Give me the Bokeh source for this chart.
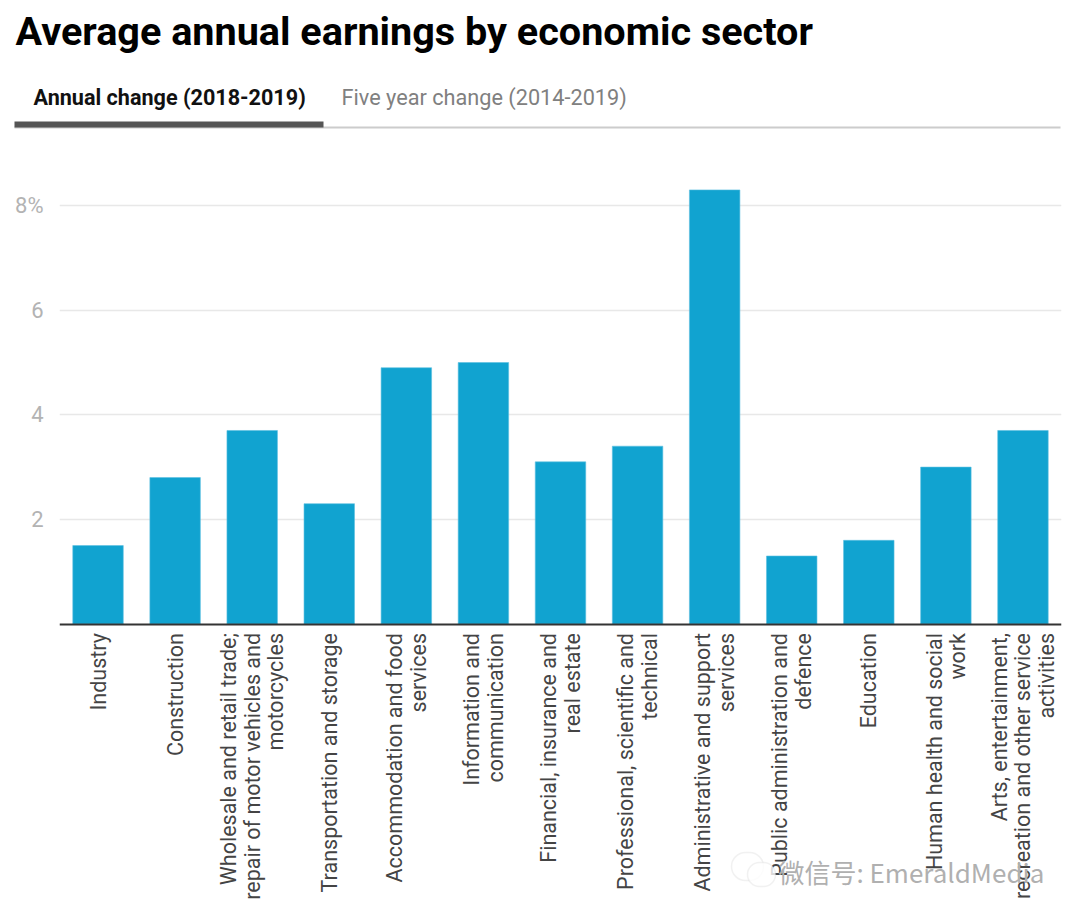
from math import pi
from bokeh.plotting import figure
from bokeh.layouts import column
from bokeh.models import FactorRange, Range1d, FixedTicker, Label, BoxAnnotation
from bokeh.embed import file_html
from bokeh.resources import INLINE

TITLE = "Average annual earnings by economic sector"
TAB_ACTIVE = "Annual change (2018-2019)"
TAB_OTHER = "Five year change (2014-2019)"
WATERMARK = "微信号: EmeraldMedia"

sectors = [
    "Industry",
    "Construction",
    "Wholesale and retail trade;\nrepair of motor vehicles and\nmotorcycles",
    "Transportation and storage",
    "Accommodation and food\nservices",
    "Information and\ncommunication",
    "Financial, insurance and\nreal estate",
    "Professional, scientific and\ntechnical",
    "Administrative and support\nservices",
    "Public administration and\ndefence",
    "Education",
    "Human health and social\nwork",
    "Arts, entertainment,\nrecreation and other service\nactivities",
]
change = [1.5, 2.8, 3.7, 2.3, 4.9, 5.0, 3.1, 3.4, 8.3, 1.3, 1.6, 3.0, 3.7]
y_ticks = [2, 4, 6, 8]
y_labels = {2: "2", 4: "4", 6: "6", 8: "8%"}

W = 1064
HEADER_H = 140
BOTTOM = 912
FRAME_L, FRAME_R, BASE_Y = 59, 1061, 623.5
PX_PER_UNIT = 52.3
MAIN_H = BOTTOM - HEADER_H

# ---- header: its frame is the whole canvas
head = figure(
    width=W, height=HEADER_H, output_backend="svg", toolbar_location=None,
    x_range=Range1d(0, W), y_range=Range1d(0, HEADER_H),
    min_border=0, min_border_left=0, min_border_right=0, min_border_top=0, min_border_bottom=0,
    outline_line_color=None, background_fill_color="white", border_fill_color="white",
    frame_align=False,
)
head.axis.visible = False
head.grid.visible = False


def head_label(text, x, y, size, color, style="normal"):
    head.add_layout(Label(
        x=x, y=HEADER_H - y, x_units="screen", y_units="screen", text=text,
        text_font="Roboto", text_font_size=size, text_color=color, text_font_style=style,
        text_align="left", text_baseline="middle",
    ))


def head_box(l, r, t, b, color):
    head.add_layout(BoxAnnotation(
        left=l, right=r, top=HEADER_H - t, bottom=HEADER_H - b,
        left_units="screen", right_units="screen", top_units="screen", bottom_units="screen",
        fill_color=color, fill_alpha=1, line_color=None,
    ))


head_label(TITLE, 15, 31, "39.6px", "#000000", "bold")
head_label(TAB_ACTIVE, 33, 96.5, "21.6px", "#111111", "bold")
head_label(TAB_OTHER, 341, 96.5, "21.7px", "#808080")
head_box(14, 1060, 126, 128, "#cccccc")
head_box(14, 323, 121, 127, "#555555")

# ---- chart: frame runs to the canvas bottom so the watermark can lie over the labels
p = figure(
    width=W, height=MAIN_H, output_backend="svg", toolbar_location=None,
    x_range=FactorRange(factors=sectors, range_padding=0, factor_padding=0),
    y_range=Range1d(-(BOTTOM - BASE_Y) / PX_PER_UNIT, (BASE_Y - HEADER_H) / PX_PER_UNIT),
    min_border_left=FRAME_L, min_border_right=W - FRAME_R, min_border_top=0, min_border_bottom=0,
    background_fill_color="white", border_fill_color="white", outline_line_color=None,
    frame_align=False,
)
p.vbar(x=sectors, top=change, width=0.655, fill_color="#11a3d0", line_color="#5cc0e0", line_width=0.6)

p.xgrid.visible = False
p.ygrid.grid_line_color = "#e8e8e8"
p.ygrid.grid_line_width = 1.5

p.yaxis.ticker = FixedTicker(ticks=y_ticks)
p.yaxis.major_label_overrides = y_labels
p.yaxis.axis_line_color = None
p.yaxis.major_tick_line_color = None
p.yaxis.minor_tick_line_color = None
p.yaxis.major_label_text_font = "Roboto"
p.yaxis.major_label_text_font_size = "22px"
p.yaxis.major_label_text_color = "#b3b3b3"
p.yaxis.major_label_standoff = 10

p.xaxis.fixed_location = 0
p.xaxis.axis_line_color = "#333333"
p.xaxis.axis_line_width = 2
p.xaxis.major_tick_line_color = None
p.xaxis.minor_tick_line_color = None
p.xaxis.major_label_orientation = pi / 2
p.xaxis.major_label_text_font = "Roboto"
p.xaxis.major_label_text_font_size = "21.5px"
p.xaxis.major_label_text_color = "#444444"
p.xaxis.major_label_text_line_height = 0.95
p.xaxis.major_label_standoff = 3


def main_box(l, r, t, b, **kw):
    p.add_layout(BoxAnnotation(
        left=l - FRAME_L, right=r - FRAME_L, top=BOTTOM - t, bottom=BOTTOM - b,
        left_units="screen", right_units="screen", top_units="screen", bottom_units="screen",
        **kw))


main_box(731, 763, 852, 880, fill_alpha=0, line_color="#cfcfcf", line_width=1.5, border_radius=14)
main_box(747, 775, 862, 886, fill_alpha=0.8, fill_color="white", line_color="#cfcfcf", line_width=1.5, border_radius=12)
p.add_layout(Label(
    x=778 - FRAME_L, y=BOTTOM - 871, x_units="screen", y_units="screen", text=WATERMARK,
    text_font="Noto Sans CJK SC", text_font_size="26px", text_color="#b0b0b0",
    text_align="left", text_baseline="middle",
))

open("out.html", "w").write(file_html(column(head, p, spacing=0), INLINE))
